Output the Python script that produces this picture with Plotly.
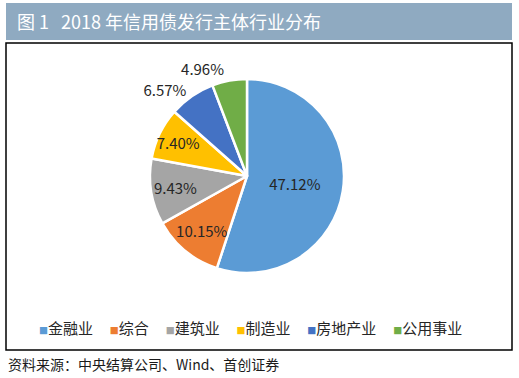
import plotly.graph_objects as go

categories = ["金融业", "综合", "建筑业", "制造业", "房地产业", "公用事业"]
shares = [47.12, 10.15, 9.43, 7.40, 6.57, 4.96]
colors = ["#5b9bd5", "#ed7d31", "#a5a5a5", "#ffc000", "#4472c4", "#70ad47"]
label_pos = ["inside", "inside", "inside", "inside", "outside", "outside"]
title_text = "图 1&nbsp;&nbsp;&nbsp;2018 年信用债发行主体行业分布"
source_text = "资料来源：中央结算公司、Wind、首创证券"

W, H = 519, 378
FONT = "Noto Sans CJK SC"

fig = go.Figure()
fig.add_trace(go.Pie(
    labels=categories,
    values=shares,
    text=[f"{v:.2f}%" for v in shares],
    textinfo="text",
    textposition=label_pos,
    insidetextorientation="horizontal",
    sort=False,
    direction="clockwise",
    rotation=0,
    marker=dict(colors=colors, line=dict(color="white", width=2.5)),
    textfont=dict(family=FONT, size=15, color="#262626"),
    outsidetextfont=dict(family=FONT, size=15, color="#262626"),
    domain=dict(x=[150 / W, 344 / W], y=[1 - 273 / H, 1 - 79 / H]),
    showlegend=False,
    hoverinfo="label+text",
))

# legend built from categories/colors
legend_parts = [
    f'<span style="font-size:9px;color:{c}">■</span>{n}'
    for n, c in zip(categories, colors)
]
legend_html = "&nbsp;&nbsp;&nbsp;&nbsp;&nbsp;".join(legend_parts)

fig.update_layout(
    width=W, height=H,
    margin=dict(l=0, r=0, t=0, b=0),
    paper_bgcolor="white",
    plot_bgcolor="white",
    uniformtext=dict(minsize=15, mode="show"),
    font=dict(family=FONT, color="#262626"),
    shapes=[
        dict(type="rect", xref="paper", yref="paper",
             x0=6 / W, x1=512 / W, y0=1 - 40 / H, y1=1 - 3 / H,
             fillcolor="#8faac1", line=dict(width=0), layer="below"),
        dict(type="rect", xref="paper", yref="paper",
             x0=6 / W, x1=512 / W, y0=1 - 350 / H, y1=1 - 43 / H,
             fillcolor="rgba(0,0,0,0)", line=dict(color="black", width=1.5)),
    ],
    annotations=[
        dict(text=title_text, xref="paper", yref="paper",
             x=15 / W, y=1 - 21 / H, xanchor="left", yanchor="middle",
             showarrow=False, font=dict(family=FONT, size=18, color="white")),
        dict(text=legend_html, xref="paper", yref="paper",
             x=250 / W, y=1 - 327 / H, xanchor="center", yanchor="middle",
             showarrow=False, font=dict(family=FONT, size=15, color="#262626")),
        dict(text=source_text, xref="paper", yref="paper",
             x=6 / W, y=1 - 364 / H, xanchor="left", yanchor="middle",
             showarrow=False, font=dict(family=FONT, size=14, color="#1a1a1a")),
    ],
)

fig.write_html(
    "out.html",
    config={"displayModeBar": False},
    post_script=(
        "document.body.style.margin='0';"
        "document.body.style.overflow='hidden';"
        "document.querySelectorAll('path.textline').forEach(function(e){e.style.display='none';});"
    ),
)
